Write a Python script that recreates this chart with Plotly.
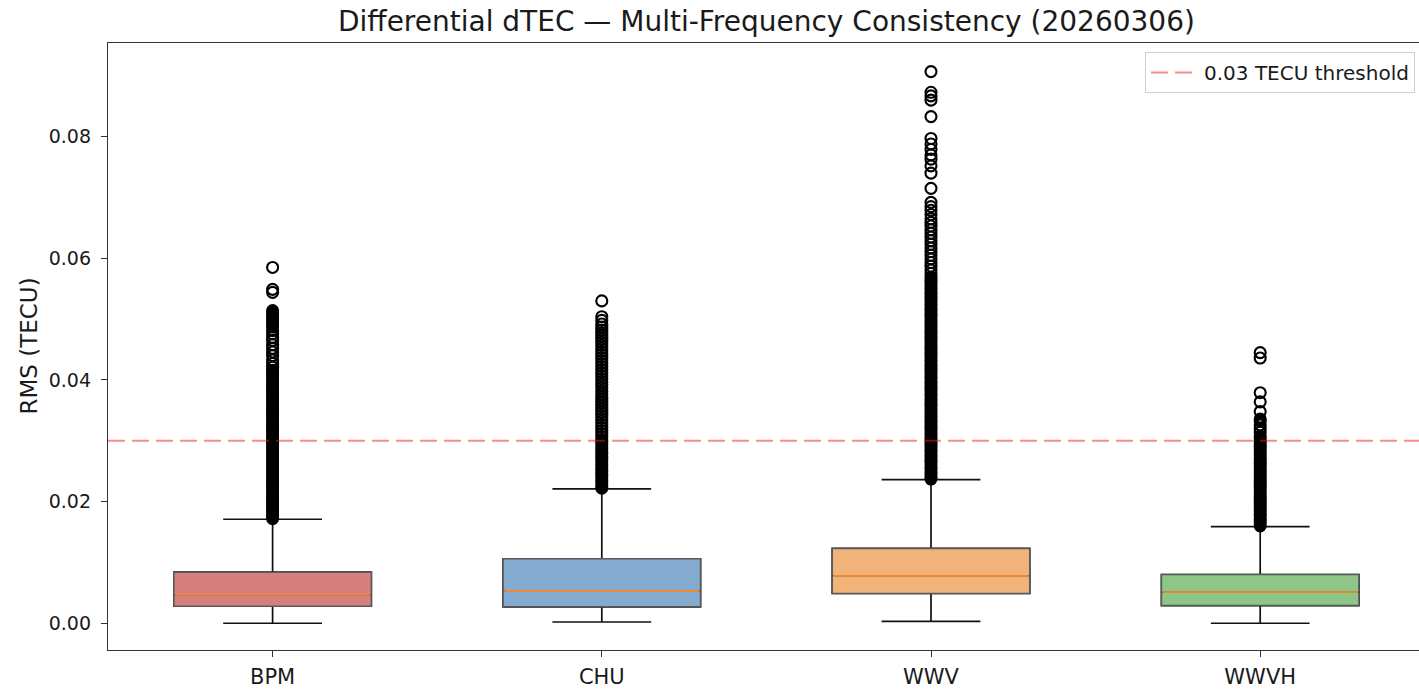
import plotly.graph_objects as go

# ---------------- data ----------------
stations = ["BPM", "CHU", "WWV", "WWVH"]
positions = [1, 2, 3, 4]
q1 = [0.0028, 0.0027, 0.0049, 0.0029]
median = [0.0047, 0.0053, 0.0078, 0.0051]
q3 = [0.0084, 0.0106, 0.0123, 0.0080]
whisker_lo = [0.0000, 0.0002, 0.0003, 0.0000]
whisker_hi = [0.0171, 0.0221, 0.0236, 0.0159]

outliers_bpm = [
    0.0172, 0.0176, 0.0180, 0.0184, 0.0188, 0.0192, 0.0196, 0.0200, 0.0204, 0.0208,
    0.0212, 0.0216, 0.0220, 0.0224, 0.0228, 0.0232, 0.0236, 0.0240, 0.0244, 0.0248,
    0.0252, 0.0256, 0.0260, 0.0264, 0.0268, 0.0272, 0.0276, 0.0280, 0.0284, 0.0288,
    0.0292, 0.0296, 0.0300, 0.0304, 0.0308, 0.0312, 0.0316, 0.0320, 0.0324, 0.0328,
    0.0332, 0.0336, 0.0340, 0.0344, 0.0348, 0.0352, 0.0356, 0.0360, 0.0364, 0.0368,
    0.0372, 0.0376, 0.0380, 0.0384, 0.0388, 0.0392, 0.0396, 0.0400, 0.0404, 0.0408,
    0.0412, 0.0416, 0.0421, 0.0427, 0.0433, 0.0440, 0.0446, 0.0452, 0.0458, 0.0465,
    0.0470, 0.0476, 0.0481, 0.0487, 0.0491, 0.0496, 0.0501, 0.0506, 0.0510, 0.0514,
    0.0544, 0.0549, 0.0585,
]
outliers_chu = [
    0.0222, 0.0226, 0.0230, 0.0234, 0.0238, 0.0242, 0.0246, 0.0250, 0.0254, 0.0258,
    0.0262, 0.0266, 0.0270, 0.0274, 0.0278, 0.0282, 0.0286, 0.0290, 0.0294, 0.0298,
    0.0302, 0.0307, 0.0312, 0.0317, 0.0322, 0.0327, 0.0332, 0.0337, 0.0342, 0.0347,
    0.0352, 0.0357, 0.0362, 0.0367, 0.0372, 0.0377, 0.0382, 0.0387, 0.0392, 0.0397,
    0.0402, 0.0407, 0.0412, 0.0417, 0.0422, 0.0427, 0.0432, 0.0437, 0.0442, 0.0447,
    0.0452, 0.0457, 0.0462, 0.0467, 0.0472, 0.0477, 0.0482, 0.0487, 0.0492, 0.0498,
    0.0504, 0.0530,
]
outliers_wwv = [
    0.0237, 0.0241, 0.0245, 0.0249, 0.0253, 0.0257, 0.0261, 0.0265, 0.0269, 0.0273,
    0.0277, 0.0281, 0.0285, 0.0289, 0.0293, 0.0297, 0.0301, 0.0305, 0.0309, 0.0313,
    0.0317, 0.0321, 0.0325, 0.0329, 0.0333, 0.0337, 0.0341, 0.0345, 0.0349, 0.0353,
    0.0357, 0.0361, 0.0365, 0.0369, 0.0373, 0.0377, 0.0381, 0.0385, 0.0389, 0.0393,
    0.0397, 0.0401, 0.0405, 0.0409, 0.0413, 0.0417, 0.0421, 0.0425, 0.0429, 0.0433,
    0.0437, 0.0441, 0.0445, 0.0449, 0.0453, 0.0457, 0.0461, 0.0465, 0.0469, 0.0473,
    0.0477, 0.0481, 0.0485, 0.0489, 0.0493, 0.0497, 0.0501, 0.0505, 0.0509, 0.0513,
    0.0517, 0.0521, 0.0525, 0.0529, 0.0533, 0.0537, 0.0541, 0.0545, 0.0549, 0.0553,
    0.0557, 0.0561, 0.0565, 0.0569, 0.0575, 0.0581, 0.0587, 0.0593, 0.0599, 0.0605,
    0.0611, 0.0617, 0.0623, 0.0629, 0.0635, 0.0641, 0.0647, 0.0653, 0.0659, 0.0665,
    0.0672, 0.0679, 0.0685, 0.0692, 0.0715, 0.0740, 0.0752, 0.0763, 0.0770, 0.0779,
    0.0788, 0.0797, 0.0833, 0.0860, 0.0867, 0.0873, 0.0907,
]
outliers_wwvh = [
    0.0160, 0.0164, 0.0168, 0.0172, 0.0176, 0.0180, 0.0184, 0.0188, 0.0192, 0.0196,
    0.0200, 0.0204, 0.0208, 0.0212, 0.0216, 0.0220, 0.0224, 0.0228, 0.0232, 0.0236,
    0.0240, 0.0244, 0.0248, 0.0252, 0.0256, 0.0260, 0.0264, 0.0268, 0.0272, 0.0276,
    0.0280, 0.0284, 0.0288, 0.0292, 0.0296, 0.0300, 0.0304, 0.0308, 0.0314, 0.0320,
    0.0326, 0.0332, 0.0336, 0.0348, 0.0364, 0.0379, 0.0436, 0.0445,
]
outliers = [outliers_bpm, outliers_chu, outliers_wwv, outliers_wwvh]

threshold = 0.03
threshold_label = "0.03 TECU threshold"
y_ticks = [0.00, 0.02, 0.04, 0.06, 0.08]
y_tick_labels = ["0.00", "0.02", "0.04", "0.06", "0.08"]

# ---------------- styles ----------------
box_colors = ["#d67f7f", "#84aad0", "#f2b37b", "#8dc686"]
BOX_WIDTH = 0.6
FONT = "DejaVu Sans"
AXIS_COLOR = "#333333"
DENSE_GAP = 0.00045  # neighbours closer than this pile up into a solid column


def split_dense(vals):
    dense, sparse = [], []
    for k, v in enumerate(vals):
        gaps = []
        if k > 0:
            gaps.append(abs(v - vals[k - 1]))
        if k < len(vals) - 1:
            gaps.append(abs(vals[k + 1] - v))
        (dense if gaps and min(gaps) < DENSE_GAP else sparse).append(v)
    return dense, sparse


fig = go.Figure()

for i, st in enumerate(stations):
    p = positions[i]
    fig.add_trace(go.Box(
        x=[p], q1=[q1[i]], median=[median[i]], q3=[q3[i]],
        lowerfence=[whisker_lo[i]], upperfence=[whisker_hi[i]],
        width=BOX_WIDTH, whiskerwidth=0.5,
        fillcolor=box_colors[i], line=dict(color="#111111", width=1.7),
        boxpoints=False, showlegend=False, hoverinfo="skip",
    ))
    fig.add_trace(go.Box(
        x=[p], q1=[q1[i]], median=[median[i]], q3=[q3[i]],
        lowerfence=[q1[i]], upperfence=[q3[i]],
        width=BOX_WIDTH, whiskerwidth=0,
        fillcolor=box_colors[i], line=dict(color="#5a5a5a", width=1.5),
        boxpoints=False, showlegend=False, hoverinfo="skip",
    ))
    fig.add_trace(go.Scatter(
        x=[p - BOX_WIDTH / 2 + 0.004, p + BOX_WIDTH / 2 - 0.004],
        y=[median[i], median[i]],
        mode="lines", line=dict(color="#f0882e", width=1.8),
        showlegend=False, hoverinfo="skip",
    ))
    dense, sparse = split_dense(outliers[i])
    fig.add_trace(go.Scatter(
        x=[p] * len(dense), y=dense, mode="markers",
        marker=dict(symbol="circle-open", size=9, color="#000000",
                    line=dict(width=4)),
        showlegend=False, hoverinfo="skip",
    ))
    fig.add_trace(go.Scatter(
        x=[p] * len(sparse), y=sparse, mode="markers",
        marker=dict(symbol="circle-open", size=11, color="#000000",
                    line=dict(width=2.1)),
        showlegend=False, hoverinfo="skip",
    ))

fig.add_shape(
    type="line", xref="paper", x0=0, x1=1, yref="y", y0=threshold, y1=threshold,
    line=dict(color="rgba(230,30,30,0.5)", width=2, dash="17px,7px"),
    showlegend=True, name=threshold_label, layer="above",
)

W, H = 1419, 691
L, R, T, B = 108, 0, 43, 41
plot_w = W - L - R
plot_h = H - T - B

fig.update_layout(
    width=W, height=H,
    margin=dict(l=L, r=R, t=T, b=B, pad=0),
    paper_bgcolor="white", plot_bgcolor="white",
    boxmode="overlay",
    font=dict(family=FONT, color="#000000"),
    showlegend=True,
    legend=dict(
        x=(1415 - L) / plot_w, xanchor="right",
        y=1 - (52 - T) / plot_h, yanchor="top",
        bgcolor="rgba(255,255,255,0.85)", bordercolor="#d0d0d0", borderwidth=1,
        font=dict(family=FONT, size=20, color="#1a1a1a"),
        itemwidth=48,
    ),
    xaxis=dict(
        range=[0.5, 0.5 + plot_w / 329.2],
        tickvals=positions, ticktext=stations,
        tickfont=dict(family=FONT, size=21, color="#1a1a1a"),
        ticks="outside", ticklen=6, tickwidth=1.2, tickcolor=AXIS_COLOR,
        showline=True, linecolor=AXIS_COLOR, linewidth=1.3, mirror=True,
        showgrid=False, zeroline=False, ticklabelstandoff=2,
    ),
    yaxis=dict(
        range=[-0.0044, 0.0954],
        tickvals=y_ticks, ticktext=y_tick_labels,
        tickfont=dict(family=FONT, size=19, color="#1a1a1a"),
        ticks="outside", ticklen=6, tickwidth=1.2, tickcolor=AXIS_COLOR,
        showline=True, linecolor=AXIS_COLOR, linewidth=1.3, mirror=False,
        showgrid=False, zeroline=False, ticklabelstandoff=6,
    ),
    annotations=[
        dict(text="Differential dTEC \u2014 Multi-Frequency Consistency (20260306)",
             xref="paper", yref="paper",
             x=(766 - L) / plot_w, y=1 + (T - 22) / plot_h,
             xanchor="center", yanchor="middle", showarrow=False,
             font=dict(family=FONT, size=28, color="#1a1a1a")),
        dict(text="RMS (TECU)", textangle=-90,
             xref="paper", yref="paper",
             x=(28 - L) / plot_w, y=0.5,
             xanchor="center", yanchor="middle", showarrow=False,
             font=dict(family=FONT, size=23, color="#1a1a1a")),
    ],
)

fig.write_html("out.html")
